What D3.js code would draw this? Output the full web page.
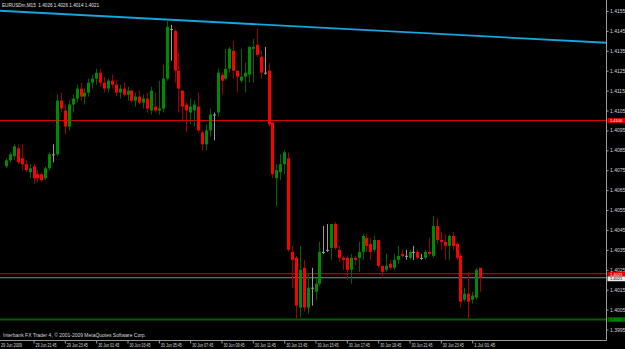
<!DOCTYPE html>
<html>
<head>
<meta charset="utf-8">
<script src="https://cdn.jsdelivr.net/npm/d3@7"></script>
<style>
  html, body { margin: 0; padding: 0; background: #000; }
  svg { display: block; }
  text { font-family: "Liberation Sans", Arial, sans-serif; }
</style>
</head>
<body>
<script>
// EURUSDm M15 bars, 29 Jun 2009 20:00 -> 1 Jul 2009 02:15 (one entry per bar)
const opens = [
  1.4077, 1.4080, 1.4082, 1.4086, 1.4081, 1.4078, 1.4074, 1.4077, 1.4073, 1.4073,
  1.4071, 1.4076, 1.4083, 1.4083, 1.4110, 1.4105, 1.4097, 1.4108, 1.4111, 1.4116,
  1.4112, 1.4114, 1.4119, 1.4121, 1.4124, 1.4119, 1.4116, 1.4120, 1.4118, 1.4114,
  1.4116, 1.4113, 1.4115, 1.4110, 1.4112, 1.4109, 1.4111, 1.4105, 1.4107, 1.4105,
  1.4106, 1.4121, 1.4146, 1.4145, 1.4125, 1.4115, 1.4108, 1.4104, 1.4105, 1.4107,
  1.4094, 1.4088, 1.4095, 1.4103, 1.4104, 1.4123, 1.4121, 1.4126, 1.4135, 1.4125,
  1.4120, 1.4122, 1.4123, 1.4136, 1.4138, 1.4132, 1.4124, 1.4125, 1.4099, 1.4071,
  1.4074, 1.4078, 1.4081, 1.4034, 1.4031, 1.4006, 1.4026, 1.4006, 1.4016, 1.4014,
  1.4018, 1.4034, 1.4035, 1.4036, 1.4048, 1.4035, 1.4031, 1.4031, 1.4025, 1.4031,
  1.4031, 1.4034, 1.4041, 1.4038, 1.4035, 1.4040, 1.4027, 1.4025, 1.4028, 1.4026,
  1.4030, 1.4033, 1.4032, 1.4031, 1.4034, 1.4034, 1.4031, 1.4031, 1.4034, 1.4032,
  1.4047, 1.4040, 1.4039, 1.4037, 1.4042, 1.4038, 1.4032, 1.4010, 1.4013, 1.4010,
  1.4011, 1.4026
];
const highs = [
  1.4081, 1.4084, 1.4088, 1.4088, 1.4088, 1.4080, 1.4078, 1.4078, 1.4075, 1.4074,
  1.4077, 1.4084, 1.4088, 1.4113, 1.4114, 1.4108, 1.4110, 1.4113, 1.4118, 1.4119,
  1.4116, 1.4121, 1.4123, 1.4126, 1.4126, 1.4122, 1.4121, 1.4123, 1.4120, 1.4118,
  1.4119, 1.4117, 1.4116, 1.4114, 1.4115, 1.4113, 1.4114, 1.4117, 1.4114, 1.4120,
  1.4128, 1.4150, 1.4148, 1.4146, 1.4134, 1.4115, 1.4109, 1.4111, 1.4110, 1.4114,
  1.4095, 1.4098, 1.4106, 1.4104, 1.4126, 1.4124, 1.4136, 1.4137, 1.4140, 1.4125,
  1.4136, 1.4129, 1.4137, 1.4141, 1.4146, 1.4135, 1.4137, 1.4129, 1.4099, 1.4078,
  1.4083, 1.4085, 1.4084, 1.4037, 1.4032, 1.4037, 1.4030, 1.4023, 1.4026, 1.4021,
  1.4039, 1.4047, 1.4048, 1.4048, 1.4049, 1.4037, 1.4032, 1.4032, 1.4033, 1.4032,
  1.4039, 1.4043, 1.4043, 1.4041, 1.4042, 1.4040, 1.4027, 1.4033, 1.4030, 1.4033,
  1.4037, 1.4035, 1.4035, 1.4035, 1.4037, 1.4035, 1.4033, 1.4035, 1.4041, 1.4052,
  1.4051, 1.4044, 1.4043, 1.4043, 1.4044, 1.4039, 1.4033, 1.4016, 1.4024, 1.4014,
  1.4026, 1.4026
];
const lows = [
  1.4076, 1.4079, 1.4080, 1.4078, 1.4075, 1.4074, 1.4071, 1.4068, 1.4069, 1.4069,
  1.4070, 1.4075, 1.4079, 1.4082, 1.4104, 1.4093, 1.4095, 1.4104, 1.4109, 1.4110,
  1.4108, 1.4112, 1.4116, 1.4118, 1.4117, 1.4114, 1.4114, 1.4116, 1.4112, 1.4111,
  1.4112, 1.4110, 1.4109, 1.4107, 1.4108, 1.4106, 1.4104, 1.4103, 1.4104, 1.4103,
  1.4104, 1.4120, 1.4130, 1.4119, 1.4104, 1.4100, 1.4094, 1.4098, 1.4097, 1.4094,
  1.4085, 1.4085, 1.4092, 1.4090, 1.4102, 1.4113, 1.4120, 1.4124, 1.4121, 1.4114,
  1.4119, 1.4114, 1.4119, 1.4119, 1.4132, 1.4121, 1.4123, 1.4097, 1.4071, 1.4057,
  1.4070, 1.4073, 1.4034, 1.4016, 1.4000, 1.4001, 1.4004, 1.4003, 1.4007, 1.4010,
  1.4017, 1.4033, 1.4034, 1.4030, 1.4035, 1.4029, 1.4025, 1.4020, 1.4018, 1.4027,
  1.4024, 1.4030, 1.4034, 1.4030, 1.4034, 1.4026, 1.4021, 1.4024, 1.4025, 1.4025,
  1.4028, 1.4031, 1.4030, 1.4030, 1.4030, 1.4030, 1.4030, 1.4030, 1.4032, 1.4031,
  1.4038, 1.4035, 1.4030, 1.4030, 1.4035, 1.4030, 1.4006, 1.4009, 1.4000, 1.4008,
  1.4010, 1.4014
];
const closes = [
  1.4080, 1.4083, 1.4087, 1.4079, 1.4078, 1.4075, 1.4076, 1.4071, 1.4071, 1.4070,
  1.4076, 1.4083, 1.4083, 1.4110, 1.4106, 1.4097, 1.4108, 1.4111, 1.4116, 1.4112,
  1.4114, 1.4119, 1.4121, 1.4124, 1.4119, 1.4116, 1.4120, 1.4118, 1.4114, 1.4116,
  1.4113, 1.4115, 1.4110, 1.4112, 1.4109, 1.4111, 1.4106, 1.4115, 1.4105, 1.4106,
  1.4121, 1.4147, 1.4146, 1.4125, 1.4116, 1.4107, 1.4105, 1.4107, 1.4108, 1.4095,
  1.4088, 1.4095, 1.4103, 1.4103, 1.4124, 1.4120, 1.4126, 1.4136, 1.4125, 1.4122,
  1.4122, 1.4124, 1.4137, 1.4137, 1.4133, 1.4124, 1.4124, 1.4098, 1.4073, 1.4075,
  1.4078, 1.4084, 1.4035, 1.4030, 1.4007, 1.4025, 1.4006, 1.4016, 1.4016, 1.4018,
  1.4034, 1.4034, 1.4035, 1.4048, 1.4036, 1.4031, 1.4030, 1.4025, 1.4031, 1.4030,
  1.4034, 1.4042, 1.4037, 1.4034, 1.4040, 1.4027, 1.4024, 1.4027, 1.4026, 1.4030,
  1.4032, 1.4032, 1.4032, 1.4034, 1.4034, 1.4031, 1.4031, 1.4034, 1.4033, 1.4047,
  1.4040, 1.4039, 1.4037, 1.4042, 1.4037, 1.4031, 1.4009, 1.4013, 1.4009, 1.4012,
  1.4025, 1.4021
];

// time axis: bar index of each labelled tick and its text
const timeTickBars = [7, 15, 23, 31, 39, 47, 55, 63, 71, 79, 87, 95, 103, 111, 119];
const timeTickLabels = [
  '29 Jun 21:45', '29 Jun 23:45', '30 Jun 01:45', '30 Jun 03:45', '30 Jun 05:45',
  '30 Jun 07:45', '30 Jun 09:45', '30 Jun 11:45', '30 Jun 13:45', '30 Jun 15:45',
  '30 Jun 17:45', '30 Jun 19:45', '30 Jun 21:45', '30 Jun 23:45', '1 Jul 01:45'
];
const firstDateLabel = '29 Jun 2009';

// price axis
const priceTicks = [1.4155, 1.4145, 1.4135, 1.4125, 1.4115, 1.4105, 1.4095, 1.4085, 1.4075,
  1.4065, 1.4055, 1.4045, 1.4035, 1.4025, 1.4015, 1.4005, 1.3995];

// horizontal levels and the trend line (bar index, price)
const levelPrices = [1.4100, 1.4023, 1.4000];
const levelNames = ['res', 'ask', 'sup'];
const bidPrice = 1.4021;
const trendBars = [41, 121];
const trendPrices = [1.41507, 1.41424];

const chartTitle = 'EURUSDm,M15  1.4026 1.4026 1.4014 1.4021';
const copyright = 'Interbank FX Trader 4, \u00a9 2001-2009 MetaQuotes Software Corp.';

const width = 625;
const height = 349;
const plotRight = 606.5;
const plotBottom = 340.5;
const fontSize = '5px';

const svg = d3.select('body').append('svg')
  .attr('width', width)
  .attr('height', height)
  .style('background', '#000');

const x = d3.scaleLinear().domain([0, 121]).range([6.1, 480]);
const y = d3.scaleLinear().domain([1.3995, 1.4155]).range([329.5, 11]);

const bars = opens.map((o, i) => ({ i, o, h: highs[i], l: lows[i], c: closes[i] }));

const levelStyle = {
  res: { stroke: '#e00000', width: 1.2, box: '#e00000', text: '#ffffff', shift: 0 },
  ask: { stroke: '#e00000', width: 1.2, box: '#e00000', text: '#ffffff', shift: 0.4 },
  sup: { stroke: '#006000', width: 2, box: '#006000', text: '#00c000', shift: 0 }
};

// level lines under the candles
const plot = svg.append('g');
levelPrices.forEach((p, k) => {
  const st = levelStyle[levelNames[k]];
  plot.append('line')
    .attr('x1', 0).attr('x2', plotRight)
    .attr('y1', y(p)).attr('y2', y(p))
    .attr('stroke', st.stroke)
    .attr('stroke-width', st.width);
});
plot.append('line')
  .attr('x1', 0).attr('x2', plotRight)
  .attr('y1', y(bidPrice)).attr('y2', y(bidPrice))
  .attr('stroke', '#8a8a8a')
  .attr('stroke-width', 1);

// candles
const candle = plot.selectAll('g.candle')
  .data(bars)
  .enter()
  .append('g')
  .attr('class', 'candle');

const kind = d => d.c > d.o ? 'up' : (d.c < d.o ? 'down' : 'doji');
const wickColor = { up: '#006400', down: '#9a0000', doji: '#9a9a9a' };
const bodyColor = { up: '#008a00', down: '#ff0000', doji: '#9a9a9a' };

candle.append('line')
  .attr('x1', d => Math.round(x(d.i)) + 0.5)
  .attr('x2', d => Math.round(x(d.i)) + 0.5)
  .attr('y1', d => y(d.h))
  .attr('y2', d => y(d.l))
  .attr('stroke', d => wickColor[kind(d)])
  .attr('stroke-width', 1);

candle.append('rect')
  .attr('x', d => Math.round(x(d.i)) - 1)
  .attr('width', 3)
  .attr('y', d => y(Math.max(d.o, d.c)))
  .attr('height', d => Math.max(1, y(Math.min(d.o, d.c)) - y(Math.max(d.o, d.c))))
  .attr('fill', d => bodyColor[kind(d)]);

// trend line, extended over the whole plot
const slope = (trendPrices[1] - trendPrices[0]) / (trendBars[1] - trendBars[0]);
const xLeft = x.invert(0);
const xRight = x.invert(plotRight);
plot.append('line')
  .attr('x1', 0)
  .attr('y1', y(trendPrices[0] + slope * (xLeft - trendBars[0])))
  .attr('x2', plotRight)
  .attr('y2', y(trendPrices[0] + slope * (xRight - trendBars[0])))
  .attr('stroke', '#14a6de')
  .attr('stroke-width', 1.8);

// frame
svg.append('line')
  .attr('x1', plotRight).attr('x2', plotRight)
  .attr('y1', 0).attr('y2', plotBottom)
  .attr('stroke', '#9a9a9a');
svg.append('line')
  .attr('x1', 0).attr('x2', plotRight)
  .attr('y1', plotBottom).attr('y2', plotBottom)
  .attr('stroke', '#9a9a9a');

// price axis
const yAxis = d3.axisRight(y)
  .tickValues(priceTicks)
  .tickSize(2)
  .tickPadding(1.5)
  .tickFormat(d3.format('.4f'));
const yAxisG = svg.append('g')
  .attr('transform', `translate(${plotRight},0)`)
  .call(yAxis);
yAxisG.select('.domain').remove();
yAxisG.selectAll('line').attr('stroke', '#9a9a9a');
yAxisG.selectAll('text')
  .attr('fill', '#d8d8d8')
  .attr('dy', '0.3em')
  .style('font-size', fontSize)
  .style('font-family', '"Liberation Sans", Arial, sans-serif');

// price boxes on the axis
const boxes = levelPrices.map((p, k) => ({ p, st: levelStyle[levelNames[k]] }));
boxes.push({ p: bidPrice, st: { box: '#e8e8e8', text: '#000000', shift: 1.1 } });
boxes.forEach(b => {
  const cy = y(b.p) + b.st.shift;
  svg.append('rect')
    .attr('x', plotRight + 1)
    .attr('y', cy - 2.4)
    .attr('width', width - plotRight - 1)
    .attr('height', 4.8)
    .attr('fill', b.st.box);
  svg.append('text')
    .attr('x', plotRight + 3.5)
    .attr('y', cy + 1.5)
    .attr('fill', b.st.text)
    .style('font-size', '4px')
    .text(d3.format('.4f')(b.p));
});

// time axis
const xAxis = d3.axisBottom(x)
  .tickValues(timeTickBars)
  .tickSize(3)
  .tickFormat((d, k) => timeTickLabels[k]);
const xAxisG = svg.append('g')
  .attr('transform', `translate(0,${plotBottom})`)
  .call(xAxis);
xAxisG.select('.domain').remove();
xAxisG.selectAll('line').attr('stroke', '#9a9a9a');
xAxisG.selectAll('text')
  .attr('fill', '#d8d8d8')
  .attr('text-anchor', 'start')
  .attr('x', 1.5)
  .attr('y', 2)
  .attr('dy', '4.8px')
  .attr('textLength', 21)
  .attr('lengthAdjust', 'spacingAndGlyphs')
  .style('font-size', fontSize)
  .style('font-family', '"Liberation Sans", Arial, sans-serif');
svg.append('text')
  .attr('x', 1)
  .attr('y', plotBottom + 6.8)
  .attr('fill', '#d8d8d8')
  .attr('textLength', 21)
  .attr('lengthAdjust', 'spacingAndGlyphs')
  .style('font-size', fontSize)
  .text(firstDateLabel);

// title and copyright
svg.append('text')
  .attr('x', 2)
  .attr('y', 7)
  .attr('fill', '#e0e0e0')
  .attr('textLength', 97)
  .attr('lengthAdjust', 'spacingAndGlyphs')
  .style('font-size', fontSize)
  .style('white-space', 'pre')
  .text(chartTitle);
svg.append('text')
  .attr('x', 3)
  .attr('y', 337)
  .attr('fill', '#d8d8d8')
  .attr('textLength', 143)
  .attr('lengthAdjust', 'spacingAndGlyphs')
  .style('font-size', fontSize)
  .text(copyright);
</script>
</body>
</html>
